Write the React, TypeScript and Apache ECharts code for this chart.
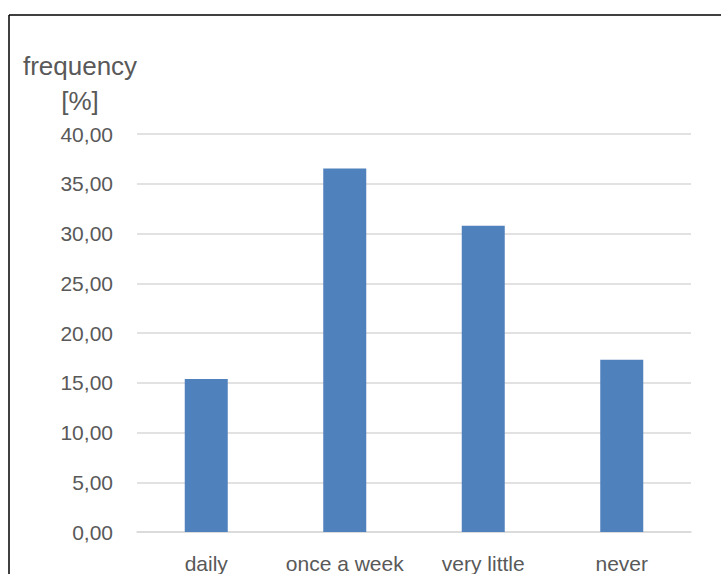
import React, { useEffect, useRef } from "react";
import * as echarts from "echarts";

// Share of respondents per frequency category, in percent
const categories = ["daily", "once a week", "very little", "never"];
const frequencyPercent = [15.38, 36.54, 30.77, 17.31];
const yMin = 0;
const yMax = 40;
const yStep = 5;

const FONT = "'Liberation Sans', Arial, sans-serif";
const TEXT_COLOR = "#595959";
const GRID_COLOR = "#d9d9d9";
const BAR_COLOR = "#4f81bd";

export default function App() {
  const ref = useRef<HTMLDivElement>(null);

  useEffect(() => {
    if (!ref.current) return;
    const chart = echarts.init(ref.current, undefined, { renderer: "svg" });
    const frameStyle = { stroke: "#000000", lineWidth: 1.5 };
    chart.setOption({
      animation: false,
      backgroundColor: "#ffffff",
      grid: { left: 137, right: 30, top: 134, bottom: 42 },
      graphic: [
        {
          type: "line",
          shape: { x1: 9, y1: 15, x2: 721, y2: 15 },
          style: frameStyle,
          silent: true,
        },
        {
          type: "line",
          shape: { x1: 9, y1: 15, x2: 9, y2: 574 },
          style: frameStyle,
          silent: true,
        },
        {
          type: "text",
          x: 80,
          y: 48,
          style: {
            text: "frequency\n[%]",
            fill: TEXT_COLOR,
            font: `26px ${FONT}`,
            align: "center",
            verticalAlign: "top",
            lineHeight: 35,
          },
        },
      ],
      xAxis: {
        type: "category",
        data: categories,
        axisLine: { show: true, lineStyle: { color: GRID_COLOR, width: 1.5 } },
        axisTick: { show: false },
        axisLabel: {
          interval: 0,
          color: TEXT_COLOR,
          fontFamily: FONT,
          fontSize: 21,
          margin: 21,
        },
      },
      yAxis: {
        type: "value",
        min: yMin,
        max: yMax,
        interval: yStep,
        axisLine: { show: false },
        axisTick: { show: false },
        splitLine: { lineStyle: { color: GRID_COLOR, width: 1.5 } },
        axisLabel: {
          color: TEXT_COLOR,
          fontFamily: FONT,
          fontSize: 21,
          margin: 24,
          formatter: (v: number) => v.toFixed(2).replace(".", ","),
        },
      },
      series: [
        {
          type: "bar",
          data: frequencyPercent,
          barWidth: 43,
          itemStyle: { color: BAR_COLOR },
        },
      ],
    });
    return () => chart.dispose();
  }, []);

  // Pinned to the viewport so the page itself never scrolls
  return (
    <div
      ref={ref}
      style={{ position: "fixed", left: 0, top: 0, width: 721, height: 574 }}
    />
  );
}
